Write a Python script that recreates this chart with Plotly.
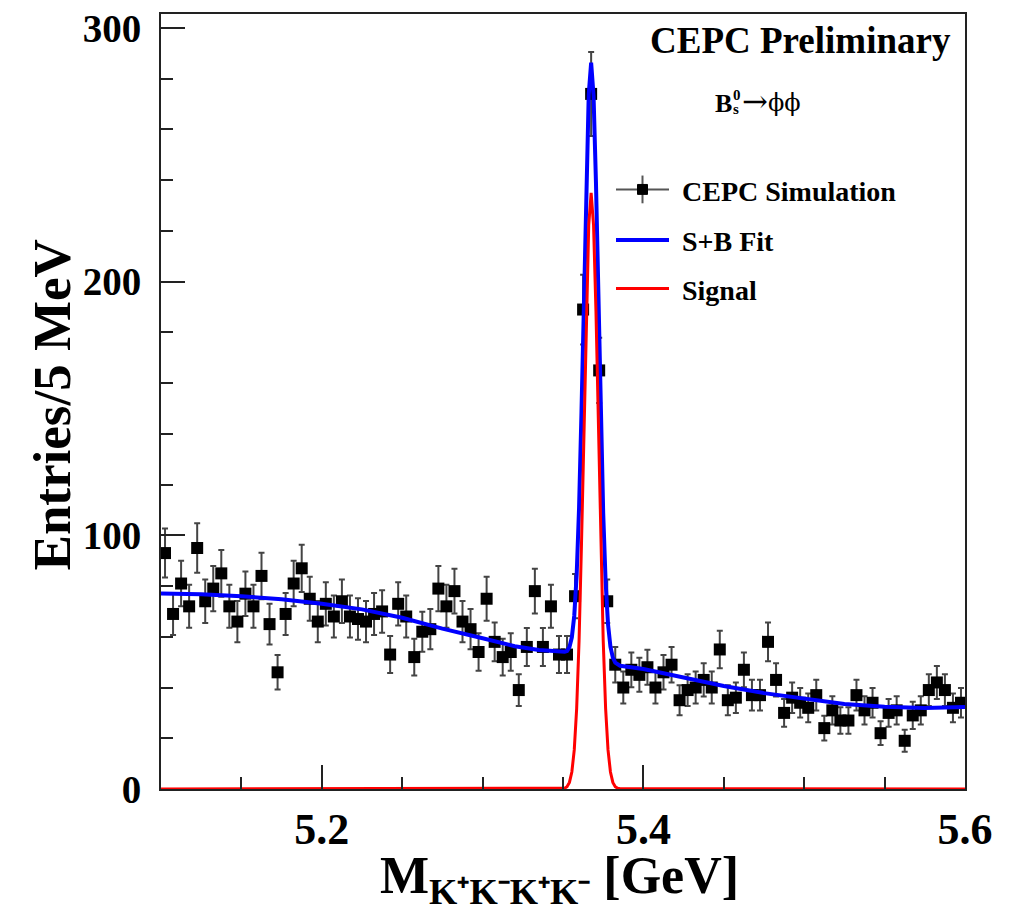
import numpy as np
import plotly.graph_objects as go

# ---------------- data ----------------
bin_low, bin_high, bin_width = 5.1, 5.6, 0.005
counts = [93, 69, 81, 72, 95, 74, 79, 85, 72, 66,
          77, 72, 84, 65, 46, 69, 81, 87, 75, 66,
          73, 68, 74, 68, 67, 66, 69, 70, 53, 73,
          68, 52, 62, 63, 79, 72, 78, 66, 63, 54,
          75, 58, 52, 54, 39, 56, 78, 56, 72, 53,
          53, 76, 189, 274, 165, 74, 49, 40, 47, 45,
          48, 40, 46, 49, 35, 39, 40, 43, 40, 55,
          35, 36, 47, 37, 37, 58, 43, 30, 36, 34,
          32, 37, 24, 31, 27, 27, 37, 31, 34, 22,
          30, 31, 19, 29, 31, 39, 42, 39, 32, 34]

# S+B fit curve
fit_x = [5.100, 5.125, 5.150, 5.175, 5.200, 5.225, 5.250, 5.275, 5.300, 5.320,
         5.335, 5.345,
         5.3495, 5.3510, 5.3525, 5.3540, 5.3555, 5.3570, 5.3585, 5.3600, 5.3615,
         5.3630, 5.3645, 5.3660, 5.3675, 5.3690, 5.3705, 5.3720, 5.3735, 5.3750,
         5.3765, 5.3780, 5.3795, 5.3810, 5.3825, 5.3840, 5.3855,
         5.400, 5.425, 5.450, 5.475, 5.500, 5.525, 5.550, 5.575, 5.600]
fit_y = [77.1, 76.8, 76.0, 74.8, 73.0, 70.8, 67.5, 63.2, 59.4, 56.3,
         54.8, 54.2,
         54.1, 54.1, 54.4, 55.9, 59.8, 68.3, 84.4, 111.0, 148.8,
         194.4, 240.0, 273.8, 286.3, 273.3, 239.1, 193.1, 146.9, 108.7,
         81.7, 65.0, 56.1, 51.8, 49.8, 49.0, 48.6,
         47.3, 43.8, 40.6, 37.8, 35.7, 33.5, 32.4, 31.9, 32.3]

# Signal component
sig_x = [5.100, 5.3495, 5.3510, 5.3525, 5.3540, 5.3555, 5.3570, 5.3585, 5.3600, 5.3615,
         5.3630, 5.3645, 5.3660, 5.3675, 5.3690, 5.3705, 5.3720, 5.3735, 5.3750,
         5.3765, 5.3780, 5.3795, 5.3810, 5.3825, 5.3840, 5.3855, 5.600]
sig_y = [0.0, 0.1, 0.3, 0.9, 2.6, 6.7, 15.4, 31.8, 58.6, 96.6,
         142.5, 188.3, 222.3, 235.0, 222.3, 188.3, 142.5, 96.6, 58.6,
         31.8, 15.4, 6.7, 2.6, 0.9, 0.3, 0.1, 0.0]

x_ticks_major = [5.2, 5.4, 5.6]
y_ticks_major = [0, 100, 200, 300]

# ---------------- geometry ----------------
W, H = 1012, 915
L, R, T, B = 161, 47, 7, 126
PW = W - L - R
FONT = "Liberation Serif"
TOP_EFF, BOT_EFF = T, H - B


def px(xp):
    return (xp - L) / PW


def py(yp):
    return (BOT_EFF - yp) / (BOT_EFF - TOP_EFF)


centers = np.arange(len(counts)) * bin_width + bin_low + bin_width / 2
counts_arr = np.array(counts, dtype=float)

fig = go.Figure()
fig.add_trace(go.Scatter(
    x=centers, y=counts_arr, mode="markers",
    marker=dict(symbol="square", size=12, color="black"),
    error_y=dict(type="data", array=np.sqrt(counts_arr), color="#444444",
                 thickness=2, width=3),
    showlegend=False, name="CEPC Simulation"))
fig.add_trace(go.Scatter(x=fit_x, y=fit_y, mode="lines",
                         line=dict(color="#0000ff", width=4),
                         showlegend=False, name="S+B Fit"))
fig.add_trace(go.Scatter(x=sig_x, y=sig_y, mode="lines",
                         line=dict(color="#ff0000", width=3),
                         showlegend=False, name="Signal"))

axis_common = dict(
    showline=True, linecolor="#222222", linewidth=2, mirror=True,
    showgrid=False, zeroline=False, ticks="inside", ticklen=24, tickwidth=2,
    tickcolor="#222222", ticklabeloverflow="allow",
)
fig.update_xaxes(
    range=[bin_low, bin_high], tickmode="array", tickvals=x_ticks_major,
    ticktext=[f"{v:.1f}" for v in x_ticks_major],
    tickfont=dict(family=FONT, size=44, color="black", weight="bold"),
    minor=dict(dtick=0.05, tick0=5.1, ticks="inside", ticklen=12, tickwidth=2,
               tickcolor="#222222", showgrid=False),
    ticklabelstandoff=0,
    **axis_common)
fig.update_yaxes(
    range=[0, 305.5], tickmode="array", tickvals=y_ticks_major,
    ticktext=[str(v) for v in y_ticks_major],
    tickfont=dict(family=FONT, size=39, color="black", weight="bold"),
    minor=dict(dtick=20, tick0=0, ticks="inside", ticklen=12, tickwidth=2,
               tickcolor="#222222", showgrid=False),
    ticklabelstandoff=10,
    **axis_common)

ann = []
# axis titles
ann.append(dict(text="<b>Entries/5 MeV</b>", x=px(52), y=py(402), xref="paper", yref="paper",
                textangle=-90, showarrow=False, xanchor="center", yanchor="middle",
                font=dict(family=FONT, size=53, color="black")))
ann.append(dict(text="<b>M<sub>K⁺K⁻K⁺K⁻</sub> [GeV]</b>", x=px(559), y=py(880),
                xref="paper", yref="paper", showarrow=False, xanchor="center", yanchor="middle",
                font=dict(family=FONT, size=52, color="black")))
# header text
ann.append(dict(text="<b>CEPC Preliminary</b>", x=px(953), y=py(34), xref="paper", yref="paper",
                showarrow=False, xanchor="right", yanchor="middle",
                font=dict(family=FONT, size=37, color="black")))
ann.append(dict(text="<b>B</b>", x=px(713), y=py(97), xref="paper", yref="paper",
                showarrow=False, xanchor="left", yanchor="middle",
                font=dict(family=FONT, size=26, color="black")))
ann.append(dict(text="<b>0</b>", x=px(731), y=py(89), xref="paper", yref="paper",
                showarrow=False, xanchor="left", yanchor="middle",
                font=dict(family=FONT, size=15, color="black")))
ann.append(dict(text="<b>s</b>", x=px(731), y=py(103), xref="paper", yref="paper",
                showarrow=False, xanchor="left", yanchor="middle",
                font=dict(family=FONT, size=15, color="black")))
ann.append(dict(text="→", x=px(740), y=py(95), xref="paper", yref="paper",
                showarrow=False, xanchor="left", yanchor="middle",
                font=dict(family="DejaVu Serif", size=31, color="black")))
ann.append(dict(text="ϕϕ", x=px(766), y=py(97), xref="paper", yref="paper",
                showarrow=False, xanchor="left", yanchor="middle",
                font=dict(family="DejaVu Serif", size=24, color="black")))

# legend
legend_items = [("CEPC Simulation", 186), ("S+B Fit", 237), ("Signal", 286)]
for name, yy in legend_items:
    ann.append(dict(text=f"<b>{name}</b>", x=px(680), y=py(yy), xref="paper", yref="paper",
                    showarrow=False, xanchor="left", yanchor="middle",
                    font=dict(family=FONT, size=28, color="black")))

shapes = [
    dict(type="line", xref="paper", yref="paper", x0=px(616), x1=px(669), y0=py(184), y1=py(184),
         line=dict(color="#555555", width=2)),
    dict(type="line", xref="paper", yref="paper", x0=px(642.5), x1=px(642.5), y0=py(170), y1=py(198),
         line=dict(color="#555555", width=2)),
    dict(type="rect", xref="paper", yref="paper", x0=px(637.5), x1=px(647.5), y0=py(179), y1=py(189),
         line=dict(color="black", width=1), fillcolor="black"),
    dict(type="line", xref="paper", yref="paper", x0=px(616), x1=px(669), y0=py(235), y1=py(235),
         line=dict(color="#0000ff", width=4)),
    dict(type="line", xref="paper", yref="paper", x0=px(616), x1=px(669), y0=py(284), y1=py(284),
         line=dict(color="#ff0000", width=3)),
]

fig.update_layout(
    width=W, height=H, margin=dict(l=L, r=R, t=T, b=B, pad=0),
    paper_bgcolor="white", plot_bgcolor="white",
    annotations=ann, shapes=shapes, showlegend=False,
)
fig.write_html("out.html")
